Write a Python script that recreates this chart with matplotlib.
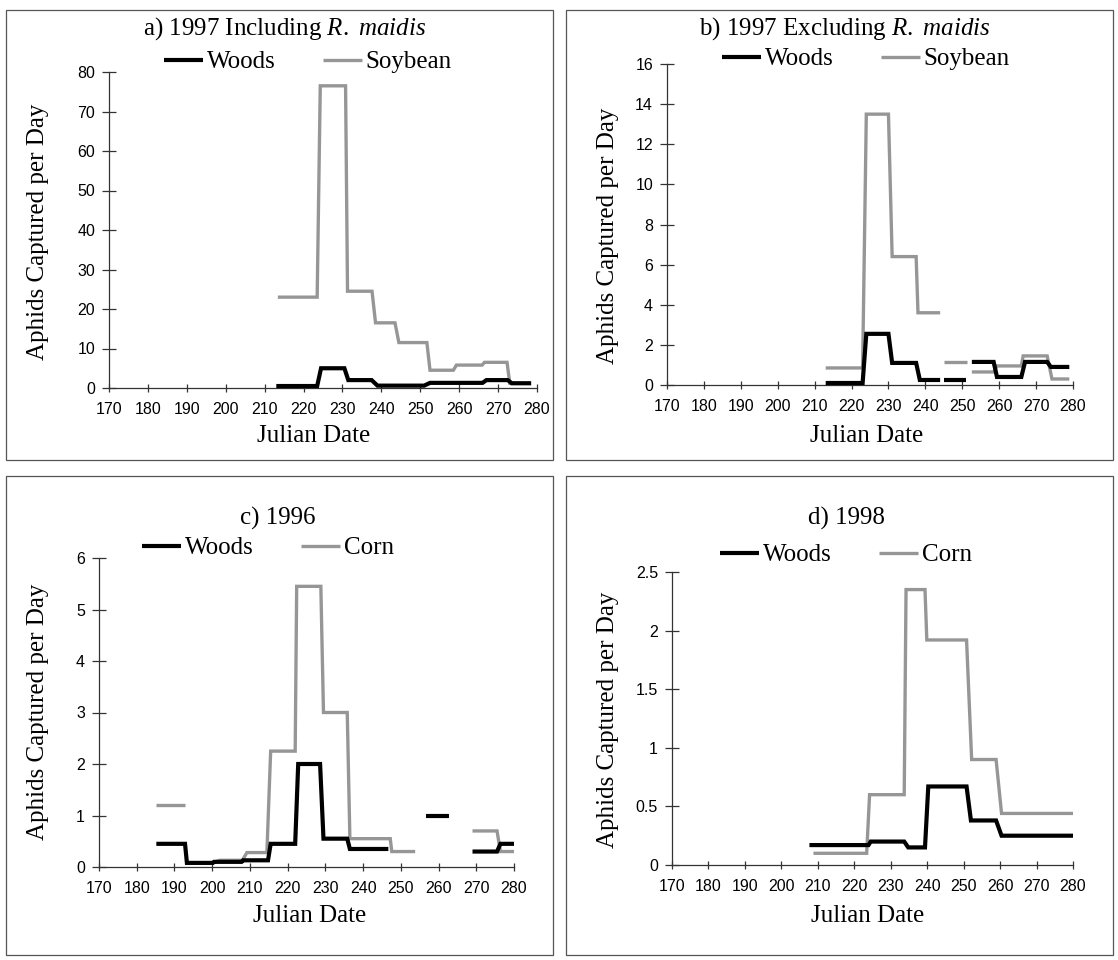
import matplotlib
matplotlib.use("Agg")
import matplotlib.pyplot as plt
from matplotlib.lines import Line2D
from matplotlib.patches import Rectangle

plt.rcParams["mathtext.fontset"] = "custom"
plt.rcParams["mathtext.rm"] = "Liberation Serif"
plt.rcParams["mathtext.it"] = "Liberation Serif:italic"

# ---------------- data (interval start day, end day, value, connected group) -------------
# a) 1997 including R. maidis
a_woods_start = [213, 224.5, 231.5, 239, 252.5, 267, 273.5]
a_woods_end = [223.5, 230.5, 237.5, 251, 266, 272.5, 278.5]
a_woods_val = [0.5, 5.0, 2.0, 0.6, 1.3, 2.0, 1.2]
a_woods_grp = [0, 0, 0, 0, 0, 0, 0]
a_soy_start = [213.4, 224.3, 231.3, 238.5, 244.5, 252.5, 259.3, 266.5, 273]
a_soy_end = [223.5, 230.8, 237.6, 243.5, 251.7, 258.5, 265.9, 272.3, 278.2]
a_soy_val = [23, 76.5, 24.5, 16.5, 11.5, 4.5, 5.8, 6.5, 1.2]
a_soy_grp = [0, 0, 0, 0, 0, 0, 0, 0, 0]

# b) 1997 excluding R. maidis
b_woods_start = [213, 224, 231, 238.5, 245, 252.6, 259.4, 267, 274]
b_woods_end = [223, 230, 237.5, 244, 251, 258.5, 266, 273, 279]
b_woods_val = [0.1, 2.55, 1.1, 0.25, 0.25, 1.15, 0.4, 1.15, 0.9]
b_woods_grp = [0, 0, 0, 0, 1, 2, 2, 2, 2]
b_soy_start = [213, 224, 231, 238, 245, 252.6, 259.4, 266.5, 274.3]
b_soy_end = [223, 230, 237.5, 244, 251.3, 258.5, 266, 273, 279]
b_soy_val = [0.85, 13.5, 6.4, 3.6, 1.15, 0.65, 0.95, 1.45, 0.3]
b_soy_grp = [0, 0, 0, 0, 1, 2, 2, 2, 2]

# c) 1996
c_woods_start = [185.2, 193.3, 200.5, 208.2, 215.5, 222.8, 229.5, 236.5, 256.7, 269, 276.4]
c_woods_end = [192.8, 200.2, 207.8, 214.8, 222, 228.6, 235.8, 246.7, 262.7, 275.5, 280]
c_woods_val = [0.45, 0.08, 0.1, 0.13, 0.45, 2.0, 0.55, 0.35, 1.0, 0.3, 0.45]
c_woods_grp = [0, 0, 0, 0, 0, 0, 0, 0, 1, 2, 2]
c_corn_start = [185.2, 193.3, 202, 209.2, 215.5, 222.4, 229.5, 236.5, 247.6, 269, 276.4]
c_corn_end = [192.7, 200, 208, 214.5, 222, 228.8, 235.8, 247.2, 253.8, 275.5, 280]
c_corn_val = [1.2, 0.08, 0.13, 0.28, 2.25, 5.45, 3.0, 0.55, 0.3, 0.7, 0.3]
c_corn_grp = [0, 1, 1, 1, 1, 1, 1, 1, 1, 2, 2]

# d) 1998
d_woods_start = [207.7, 224.5, 234.8, 240.3, 252, 260.4]
d_woods_end = [223.9, 233.7, 239.4, 250.8, 258.9, 280]
d_woods_val = [0.17, 0.2, 0.15, 0.67, 0.38, 0.25]
d_woods_grp = [0, 0, 0, 0, 0, 0]
d_corn_start = [208.8, 224.2, 234.2, 239.9, 252.2, 260.4]
d_corn_end = [223.4, 233.7, 239.4, 250.8, 258.9, 280]
d_corn_val = [0.1, 0.6, 2.35, 1.92, 0.9, 0.44]
d_corn_grp = [0, 0, 0, 0, 0, 0]

x_ticks = [170, 180, 190, 200, 210, 220, 230, 240, 250, 260, 270, 280]
a_yticks = [0, 10, 20, 30, 40, 50, 60, 70, 80]
b_yticks = [0, 2, 4, 6, 8, 10, 12, 14, 16]
c_yticks = [0, 1, 2, 3, 4, 5, 6]
d_yticks = [0, 0.5, 1, 1.5, 2, 2.5]
d_ytick_labels = ["0", "0.5", "1", "1.5", "2", "2.5"]

# ---------------- figure ----------------
W, H = 1118, 960
fig = plt.figure(figsize=(W / 100, H / 100), dpi=100)

SERIF = ["Liberation Serif", "DejaVu Serif"]
SANS = ["Liberation Sans", "DejaVu Sans"]
FS = 18

WOODS_STYLE = dict(color="black", lw=3.0, solid_capstyle="butt", solid_joinstyle="miter")
CROP_STYLE = dict(color="#969696", lw=2.4, solid_capstyle="butt", solid_joinstyle="miter")


def fx(x):
    return x / W


def fy(y):
    return 1 - y / H


def add_axes_px(l, t, r, b):
    return fig.add_axes([fx(l), fy(b), (r - l) / W, (b - t) / H])


def draw_steps(ax, starts, ends, vals, grps, style, z):
    groups = {}
    for s, e, v, g in zip(starts, ends, vals, grps):
        groups.setdefault(g, ([], []))
        groups[g][0].extend([s, e])
        groups[g][1].extend([v, v])
    for g, (xs, ys) in groups.items():
        ax.plot(xs, ys, zorder=z, clip_on=False, **style)


def style_axes(ax, ymax, yticks, ylabels=None):
    ax.set_xlim(170, 280)
    ax.set_ylim(0, ymax)
    ax.set_xticks(x_ticks)
    ax.set_xticklabels([str(t) for t in x_ticks])
    ax.set_yticks(yticks)
    ax.set_yticklabels(ylabels if ylabels else [str(t) for t in yticks])
    for sp in ["top", "right"]:
        ax.spines[sp].set_visible(False)
    for sp in ["left", "bottom"]:
        ax.spines[sp].set_linewidth(0.9)
        ax.spines[sp].set_color("#333333")
    ax.tick_params(axis="y", direction="inout", length=10, width=0.9, pad=5,
                   labelsize=11.5, color="#333333")
    ax.tick_params(axis="x", direction="inout", length=6, width=0.9, pad=7,
                   labelsize=11.5, color="#333333")
    for lab in ax.get_xticklabels() + ax.get_yticklabels():
        lab.set_family(SANS)
    ax.patch.set_alpha(0)


def legend(ax, crop_name, cx, cy):
    handles = [Line2D([], [], **WOODS_STYLE), Line2D([], [], **CROP_STYLE)]
    leg = ax.legend(handles, ["Woods", crop_name], ncol=2, frameon=False,
                    loc="center", bbox_to_anchor=(fx(cx), fy(cy)),
                    bbox_transform=fig.transFigure,
                    handlelength=1.55, handletextpad=0.15, columnspacing=1.9,
                    borderpad=0, borderaxespad=0,
                    prop={"family": SERIF, "size": FS})
    return leg


def panel_box(l, t, r, b):
    fig.add_artist(Rectangle((fx(l), fy(b)), (r - l) / W, (b - t) / H,
                             transform=fig.transFigure, fill=False,
                             lw=0.9, edgecolor="#555555"))


# panel boxes
panel_box(6, 10, 553, 460)
panel_box(566, 10, 1113, 460)
panel_box(6, 476, 553, 955)
panel_box(566, 476, 1113, 955)

# ---- a ----
ax_a = add_axes_px(109, 72, 537, 388)
draw_steps(ax_a, a_soy_start, a_soy_end, a_soy_val, a_soy_grp, CROP_STYLE, 2)
draw_steps(ax_a, a_woods_start, a_woods_end, a_woods_val, a_woods_grp, WOODS_STYLE, 3)
style_axes(ax_a, 80, a_yticks)
legend(ax_a, "Soybean", 308, 62)
fig.text(fx(285), fy(29), "a) 1997 Including $\\mathit{R.}$ $\\mathit{maidis}$", ha="center",
         va="center", family=SERIF, fontsize=FS)
fig.text(fx(314), fy(436), "Julian Date", ha="center", va="center", family=SERIF, fontsize=FS)
fig.text(fx(38), fy(232), "Aphids Captured per Day", ha="center", va="center",
         rotation=90, family=SERIF, fontsize=FS)

# ---- b ----
ax_b = add_axes_px(667, 64, 1073, 385)
draw_steps(ax_b, b_soy_start, b_soy_end, b_soy_val, b_soy_grp, CROP_STYLE, 2)
draw_steps(ax_b, b_woods_start, b_woods_end, b_woods_val, b_woods_grp, WOODS_STYLE, 3)
style_axes(ax_b, 16, b_yticks)
legend(ax_b, "Soybean", 866, 59)
fig.text(fx(845), fy(29), "b) 1997 Excluding $\\mathit{R.}$ $\\mathit{maidis}$", ha="center",
         va="center", family=SERIF, fontsize=FS)
fig.text(fx(867), fy(436), "Julian Date", ha="center", va="center", family=SERIF, fontsize=FS)
fig.text(fx(608), fy(236), "Aphids Captured per Day", ha="center", va="center",
         rotation=90, family=SERIF, fontsize=FS)

# ---- c ----
ax_c = add_axes_px(99, 558, 514, 867)
draw_steps(ax_c, c_corn_start, c_corn_end, c_corn_val, c_corn_grp, CROP_STYLE, 2)
draw_steps(ax_c, c_woods_start, c_woods_end, c_woods_val, c_woods_grp, WOODS_STYLE, 3)
style_axes(ax_c, 6, c_yticks)
legend(ax_c, "Corn", 268, 548)
fig.text(fx(278), fy(518), "c) 1996", ha="center", va="center", family=SERIF, fontsize=FS)
fig.text(fx(310), fy(916), "Julian Date", ha="center", va="center", family=SERIF, fontsize=FS)
fig.text(fx(38), fy(712), "Aphids Captured per Day", ha="center", va="center",
         rotation=90, family=SERIF, fontsize=FS)

# ---- d ----
ax_d = add_axes_px(672, 572, 1073, 865)
draw_steps(ax_d, d_corn_start, d_corn_end, d_corn_val, d_corn_grp, CROP_STYLE, 2)
draw_steps(ax_d, d_woods_start, d_woods_end, d_woods_val, d_woods_grp, WOODS_STYLE, 3)
style_axes(ax_d, 2.5, d_yticks, d_ytick_labels)
legend(ax_d, "Corn", 846, 555)
fig.text(fx(846), fy(518), "d) 1998", ha="center", va="center", family=SERIF, fontsize=FS)
fig.text(fx(868), fy(916), "Julian Date", ha="center", va="center", family=SERIF, fontsize=FS)
fig.text(fx(608), fy(720), "Aphids Captured per Day", ha="center", va="center",
         rotation=90, family=SERIF, fontsize=FS)

fig.savefig("out.png", dpi=100, facecolor="white")
